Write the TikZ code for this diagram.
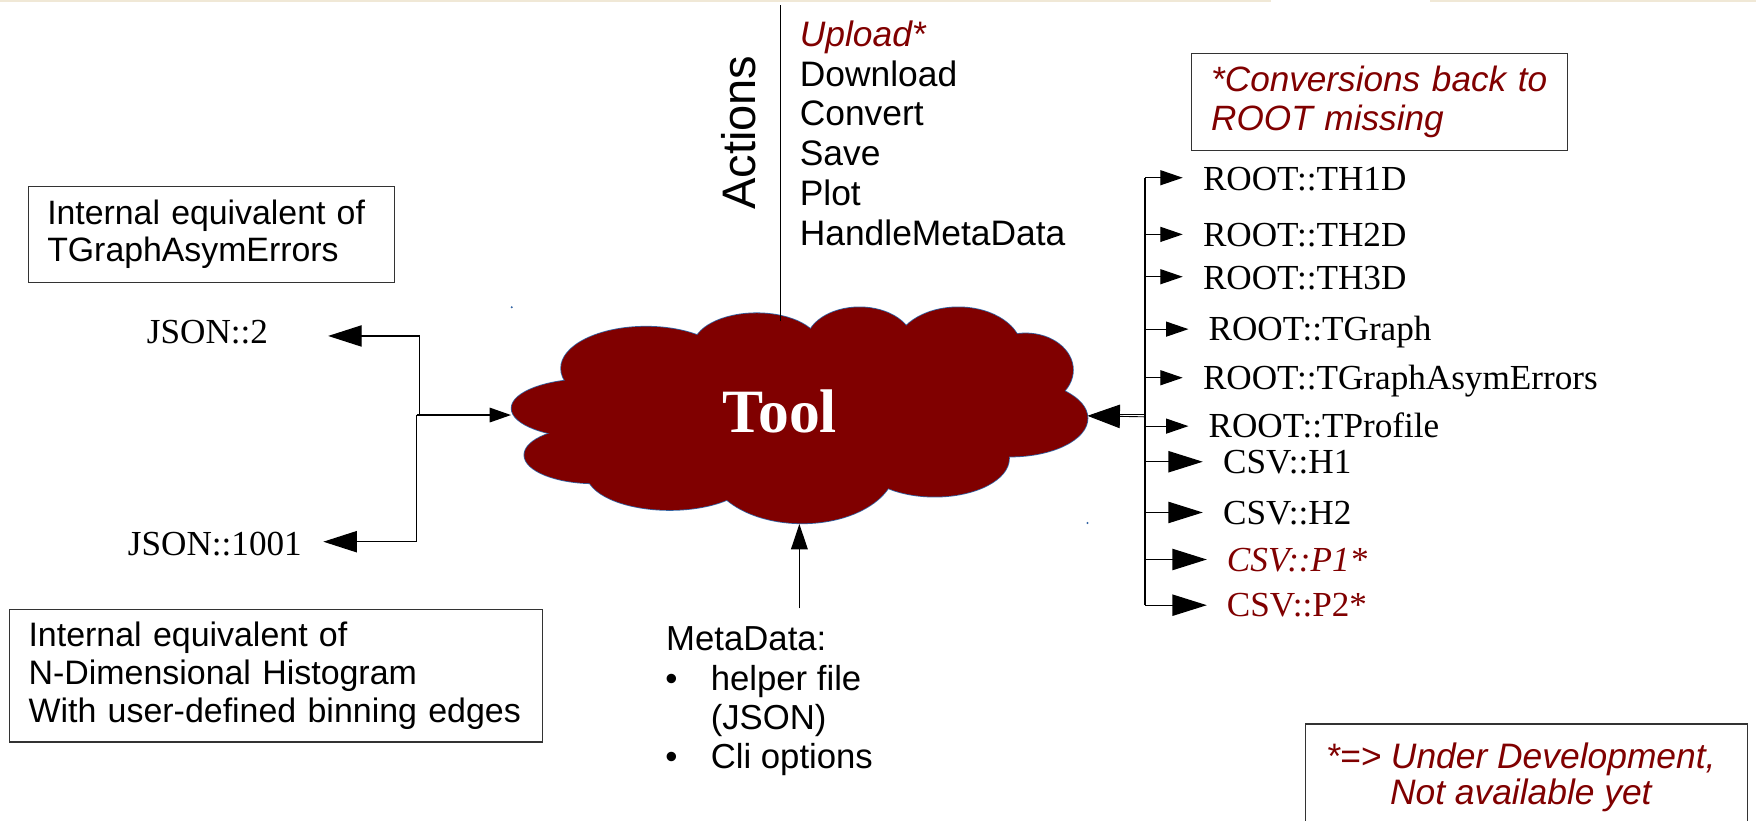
\documentclass[tikz,border=0pt]{standalone}
\usepackage{fontspec}
\setmainfont{Liberation Serif}
\setsansfont{Liberation Sans}
\usetikzlibrary{arrows.meta}
\definecolor{maroon}{RGB}{128,0,0}
\definecolor{cloudline}{RGB}{52,101,164}
\definecolor{beige}{RGB}{240,232,214}
\begin{document}
\begin{tikzpicture}[x=1pt,y=-1pt,
  conn/.style={draw=black, line width=1.1pt},
  boxline/.style={draw=black!80, line width=1pt},
  sanstxt/.style={font=\sffamily\fontsize{31.6}{35.4}\selectfont, inner sep=0pt, anchor=base west},
  mdtxt/.style={font=\sffamily\fontsize{31}{35}\selectfont, inner sep=0pt, anchor=base west},
  sertxt/.style={font=\fontsize{31.4}{36}\selectfont, inner sep=0pt, anchor=base west},
  redtxt/.style={text=maroon},
  smallhead/.style={-{Triangle[length=20pt,width=13.4pt]}},
  bighead/.style={-{Triangle[length=30.7pt,width=19pt]}},
  jsonhead/.style={-{Triangle[length=30pt,width=19pt]}},
]
\useasboundingbox (0,0) rectangle (1568,733);
% slide edge band
\fill[beige] (0,0) rectangle (1135,1.6);
\fill[beige] (1277,0) rectangle (1568,1.6);

% ---------- cloud ----------
\def\puffs{527.4/364.6/70.6/26.2, 576.9/328.9/75.9/37.2, 675.7/309.5/56.5/29.8,
  767.5/306.6/47.7/32.2, 855.7/312.5/56.5/38.1, 915.7/330.4/42.4/32.7,
  901.6/373.5/69.5/34.2, 834.6/409.3/66.4/34.2, 716.3/416.7/83/50.6,
  598.0/422.7/74.1/32.7, 531/406.3/62.8/25.3}
\foreach \cx/\cy/\rx/\ry in \puffs
  \draw[cloudline, line width=1.4pt] (\cx,\cy) ellipse [x radius=\rx, y radius=\ry];
\foreach \cx/\cy/\rx/\ry in \puffs
  \fill[maroon] (\cx,\cy) ellipse [x radius=\rx, y radius=\ry];
\fill[maroon] (714,370) ellipse [x radius=180, y radius=60];
\fill[cloudline] (456.9,274.4) circle (1);
\fill[cloudline] (971,467) circle (1);

\node[font=\bfseries\fontsize{55}{60}\selectfont, text=white, inner sep=0pt, anchor=base] (tool) at (696.4,386) {Tool};

\coordinate (cloudN) at (697,287);
\coordinate (cloudW) at (456.3,370.6);
\coordinate (cloudE) at (971,371.3);
\coordinate (cloudS) at (713.8,467.9);

% ---------- actions ----------
\coordinate (actTop) at (697,4.5);
\draw[conn, line width=0.9pt] (actTop) -- (cloudN);
\node[font=\sffamily\fontsize{42}{44}\selectfont, inner sep=0pt, anchor=base west, rotate=90] (actions) at (675,187.5) {Actions};
\node[sanstxt, redtxt, font=\sffamily\itshape\fontsize{31.6}{35.4}\selectfont] (a1) at (714,41.7) {Upload*};
\node[sanstxt] (a2) at (714,77.1) {Download};
\node[sanstxt] (a3) at (714,112.5) {Convert};
\node[sanstxt] (a4) at (714,147.9) {Save};
\node[sanstxt] (a5) at (714,183.3) {Plot};
\node[sanstxt] (a6) at (714,218.8) {HandleMetaData};

% ---------- left side ----------
\node[boxline, font=\sffamily\fontsize{30.2}{33}\selectfont, anchor=north west, align=left,
  text width=293.3pt, inner xsep=17pt, inner ysep=0pt, minimum width=327.3pt, minimum height=86pt]
  (box1) at (24.7,166) {Internal equivalent of\\TGraphAsymErrors};
\node[boxline, font=\sffamily\fontsize{30.3}{34}\selectfont, anchor=north west, align=left,
  text width=447pt, inner xsep=14.5pt, inner ysep=0pt, minimum width=476pt, minimum height=118pt]
  (box2) at (8,544) {\hspace*{2.5pt}Internal equivalent of\\\hspace*{2.5pt}N-Dimensional Histogram\\\hspace*{2.5pt}With user-defined binning edges};

\node[sertxt] (json2) at (131,307) {JSON::2};
\node[sertxt] (json1001) at (114,495.6) {JSON::1001};
\coordinate (tipJ2) at (293,300);
\coordinate (tipJ1001) at (288.7,483.7);
\coordinate (ljuncA) at (374.5,370.6);
\coordinate (ljuncB) at (372,370.6);
\draw[conn, -{Triangle[length=19pt,width=13pt]}] (ljuncB) -- (cloudW);
\draw[conn, jsonhead] (ljuncA) |- (tipJ2);
\draw[conn, jsonhead] (ljuncB) |- (tipJ1001);

% ---------- metadata ----------
\coordinate (mdTail) at (713.8,543.2);
\draw[conn, -{Triangle[length=22.6pt,width=14.9pt]}] (mdTail) -- (cloudS);
\node[mdtxt] (md0) at (594.7,581) {MetaData:};
\node[mdtxt] (mdb1) at (594,616.2) {•};
\node[mdtxt] (md1) at (634.5,616.2) {helper file};
\node[mdtxt] (md2) at (634.5,651.3) {(JSON)};
\node[mdtxt] (mdb3) at (594,686.5) {•};
\node[mdtxt] (md3) at (634.5,686.5) {Cli options};

% ---------- right side ----------
\node[boxline, font=\sffamily\itshape\fontsize{31.4}{34.3}\selectfont, text=maroon, anchor=north west, align=left,
  text width=300.6pt, inner xsep=17.4pt, inner ysep=0pt, minimum width=335.4pt, minimum height=87pt]
  (conv) at (1063.6,47) {*Conversions back to\\ROOT missing};

\coordinate (busTop) at (1022.5,158.7);
\coordinate (busBot) at (1022.5,540.4);
\draw[conn] (busTop) -- (busBot);
\coordinate (rjA) at (1022.5,370.4);
\coordinate (rjB) at (1022.5,372.2);
\coordinate (rjHead) at (999,370.4);
\draw[conn, line width=0.8pt] (rjA) -- (rjHead);
\draw[conn, line width=0.8pt, -{Triangle[length=29pt,width=21pt]}] (rjB) -- (cloudE);

\node[sertxt] (th1) at (1074,169.7) {ROOT::TH1D};
\node[sertxt] (th2) at (1074,220.3) {ROOT::TH2D};
\node[sertxt] (th3) at (1074,258.4) {ROOT::TH3D};
\node[sertxt] (tg) at (1079,304.3) {ROOT::TGraph};
\node[sertxt] (tga) at (1074,347.7) {ROOT::TGraphAsymErrors};
\node[sertxt] (tp) at (1079,390.6) {ROOT::TProfile};
\node[sertxt] (h1) at (1091.9,422.8) {CSV::H1};
\node[sertxt] (h2) at (1091.9,468) {CSV::H2};
\node[sertxt, redtxt, font=\itshape\fontsize{31.4}{36}\selectfont] (p1) at (1095.4,510.6) {CSV::P1*};
\node[sertxt, redtxt] (p2) at (1095.4,550.8) {CSV::P2*};

\foreach \y/\tip/\hd in {158.7/1056.1/smallhead, 209.3/1056.1/smallhead, 247.1/1056.1/smallhead,
  293.9/1061.2/smallhead, 337.3/1056.1/smallhead, 380.5/1061.2/smallhead,
  412.3/1074/bighead, 457.6/1074/bighead, 499.6/1077.6/bighead, 540.4/1077.6/bighead}
  \draw[conn, \hd] (busTop |- 0,\y) -- (\tip,\y);

% ---------- note ----------
\draw[boxline] (1166,740) -- (1166,646.5) -- (1560,646.5) -- (1560,740);
\node[font=\sffamily\itshape\fontsize{31.6}{32.8}\selectfont, text=maroon, align=center, inner sep=0pt]
  (undev) at (1358,694) {*=> Under Development,\\Not available yet};
\end{tikzpicture}
\end{document}
